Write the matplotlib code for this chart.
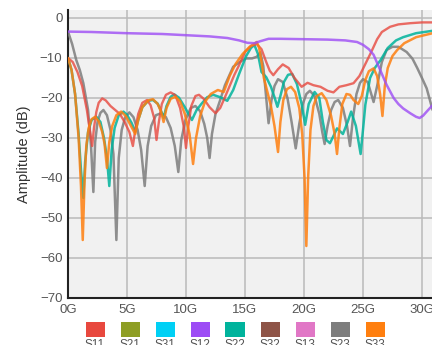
import matplotlib
matplotlib.use("Agg")
import matplotlib.pyplot as plt
from matplotlib.patches import Rectangle

plt.rcParams['font.family'] = ['Liberation Sans', 'DejaVu Sans']

# ---- data (frequency in GHz, amplitude in dB) ----
s11_f = [0, 0.4, 0.8, 1.2, 1.6, 1.9, 2.05, 2.2, 2.4, 2.6, 2.9, 3.2, 3.6, 4.0, 4.4, 4.8, 5.2, 5.5, 5.7,
         5.95, 6.3, 6.7, 7.0, 7.3, 7.5, 7.7, 7.95, 8.3, 8.7, 9.1, 9.5, 9.8, 10.0, 10.2, 10.45, 10.8, 11.1,
         11.5, 12.0, 12.5, 12.9, 13.3, 13.7, 14.1, 14.5, 15.0, 15.5, 16.0, 16.4, 16.8, 17.1, 17.4, 17.8,
         18.2, 18.7, 19.2, 19.8, 20.3, 20.8, 21.4, 22.0, 22.5, 23.0, 23.6, 24.2, 24.7, 25.2, 25.7, 26.2,
         26.6, 27.3, 28.0, 29.0, 30.0, 30.9]
s11_db = [-10, -11, -13.5, -17, -23, -29, -32, -27.5, -23.5, -21.2, -20.1, -20.6, -22, -23, -24, -26,
          -28.5, -32, -28, -24, -21.2, -20.5, -21.8, -25, -30.5, -26, -21.5, -19.2, -18.6, -19.3, -22.5,
          -27, -32.5, -27, -22, -19.5, -19.2, -20.2, -22.3, -23.8, -22.5, -19.8, -17, -14.2, -11.8, -8.5,
          -7, -6.5, -7.8, -11, -13.2, -14.3, -12.8, -11.6, -12.5, -15, -17.2, -16.2, -16.8, -17.2, -18.2,
          -18.6, -17.2, -16.8, -16.3, -14.5, -11.5, -8.5, -5.3, -3.5, -2.2, -1.6, -1.3, -1.1, -1.1]

s12_f = [0, 2, 5, 8, 10, 12, 13.5, 14.5, 15.2, 15.8, 16.3, 17, 18, 20, 22, 23.5, 24.5, 25.0, 25.5,
         25.9, 26.4, 27.0, 27.6, 28.0, 28.4, 29.0, 29.5, 29.8, 30.1, 30.4, 30.9]
s12_db = [-3.4, -3.5, -3.8, -4.0, -4.3, -4.6, -5.0, -5.6, -6.2, -6.3, -5.8, -5.2, -5.2, -5.3, -5.4, -5.6,
          -6.0, -6.7, -7.8, -9.2, -12.6, -16.7, -20, -21.5, -22.6, -23.8, -24.7, -25, -24.4, -23.4, -21.8]

s22_f = [0, 0.3, 0.6, 0.9, 1.1, 1.3, 1.45, 1.7, 2.0, 2.4, 2.75, 3.05, 3.3, 3.5, 3.7, 3.95, 4.3, 4.7,
         5.0, 5.4, 5.7, 5.95, 6.3, 6.8, 7.2, 7.6, 7.9, 8.1, 8.35, 8.7, 9.0, 9.4, 9.9, 10.5, 10.9, 11.3,
         11.8, 12.3, 12.9, 13.5, 14.0, 14.5, 15.1, 15.5, 15.8, 16.1, 16.4, 16.8, 17.2, 17.5, 17.75, 18.0,
         18.3, 18.65, 19.0, 19.4, 19.8, 20.1, 20.4, 20.9, 21.3, 21.6, 21.9, 22.2, 22.5, 22.8, 23.3,
         23.7, 24.0, 24.4, 24.8, 25.0, 25.2, 25.6, 26.0, 26.5, 27.1, 27.8, 28.4, 29.5, 30.9]
s22_db = [-10, -13, -19, -29, -38, -45, -36, -28.5, -25.5, -24.7, -26, -30, -35, -42, -33, -27.5, -24.3,
          -23.4, -24.2, -26.3, -28.4, -25.5, -22.3, -20.7, -20.5, -21.4, -23.3, -25, -22, -19.7, -19.1,
          -19.9, -22.3, -25.5, -23, -21.5, -19.8, -19.2, -19.8, -20.7, -18, -14, -9.5, -7.5, -6.75, -9,
          -13.5, -14.8, -17.2, -19.8, -22.2, -19.5, -16, -14.2, -14, -16.5, -21.5, -26.7, -21.5, -18.5,
          -20, -26, -30.5, -31.3, -29.5, -27.6, -29, -26, -23.4, -27, -34, -28, -21.7, -15, -12.5, -10.5,
          -7.5, -5.6, -4.8, -3.8, -3.2]

s23_f = [0, 0.35, 0.7, 1.0, 1.3, 1.7, 1.95, 2.15, 2.3, 2.5, 2.75, 3.0, 3.3, 3.6, 3.85, 4.1, 4.3, 4.55,
         4.85, 5.2, 5.55, 5.9, 6.2, 6.5, 6.75, 7.05, 7.45, 7.9, 8.3, 8.7, 9.05, 9.35, 9.6, 9.95, 10.4,
         10.8, 11.2, 11.55, 11.8, 12.0, 12.2, 12.5, 12.9, 13.3, 14.0, 14.6, 15.1, 15.6, 16.0, 16.3,
         16.55, 16.8, 17.0, 17.25, 17.5, 17.8, 18.2, 18.6, 18.95, 19.3, 19.6, 19.9, 20.2, 20.5, 20.9,
         21.3, 21.55, 21.75, 22.0, 22.3, 22.6, 22.9, 23.3, 23.65, 23.9, 24.15, 24.45, 24.75, 25.0, 25.4,
         25.9, 26.2, 26.6, 27.0, 27.5, 28.0, 28.7, 29.2, 29.6, 30.0, 30.4, 30.9]
s23_db = [-3.4, -6.5, -10.5, -13, -16.3, -23, -32, -43.5, -31, -26, -23.7, -23, -24.3, -28, -34, -55.5,
          -35, -28, -24.8, -23.6, -24.8, -28, -33, -42, -32, -27, -24.3, -23.8, -24.8, -27.5, -32, -38.5,
          -30.5, -25.5, -22.5, -22, -23.3, -26.5, -30, -35, -29, -24, -20.5, -16.8, -12.2, -10.9, -10.1,
          -10.1, -9.7, -8.6, -12, -20, -26.3, -20.5, -17, -15.3, -16, -20, -26, -32.6, -26.5, -21.5,
          -19, -18.2, -19.5, -24, -28.5, -31.5, -27, -23, -21, -20.5, -22.5, -27, -32, -25, -19,
          -16.2, -15.3, -16, -21, -17, -11, -8, -7.2, -7.2, -8.5, -10.2, -12.5, -15, -17.6, -23]

s33_f = [0, 0.3, 0.6, 0.9, 1.1, 1.25, 1.4, 1.55, 1.75, 2.0, 2.3, 2.6, 2.9, 3.1, 3.3, 3.5, 3.75, 4.1,
         4.5, 4.9, 5.3, 5.7, 5.95, 6.3, 6.8, 7.2, 7.6, 7.9, 8.1, 8.35, 8.7, 9.1, 9.5, 9.9, 10.3, 10.6,
         10.85, 11.2, 11.6, 12.1, 12.7, 13.2, 13.7, 14.2, 14.8, 15.4, 16.0, 16.2, 16.4, 16.6, 16.9,
         17.2, 17.5, 17.8, 18.0, 18.25, 18.55, 18.9, 19.25, 19.6, 19.85, 20.05, 20.2, 20.35, 20.55, 20.8,
         21.1, 21.5, 21.9, 22.3, 22.6, 22.8, 23.0, 23.25, 23.6, 23.9, 24.2, 24.6, 24.9, 25.2, 25.5,
         25.9, 26.2, 26.45, 26.65, 26.85, 27.1, 27.5, 27.9, 28.5, 29.5, 30.9]
s33_db = [-10, -13, -19, -30, -42, -55.5, -41, -32, -27.5, -25.3, -24.7, -25.8, -28.5, -31.5, -37.5,
          -31, -27, -24.3, -23.4, -24.5, -26.8, -29, -25.5, -22.3, -20.6, -20.3, -21.5, -23.5, -26,
          -22.5, -20.2, -19.7, -20.8, -24, -29, -36.5, -30, -24.5, -21, -19, -18, -18.5, -14.5, -11.5,
          -9, -7.2, -6, -7.5, -11, -15, -18.5, -22, -27, -33.5, -26, -20.5, -17.8, -17.2, -18.5, -22.5,
          -29, -40, -57, -40, -28, -22, -19.5, -18.8, -20.5, -24.5, -29, -34, -27.5, -21.5, -19, -19.2,
          -20.5, -21.5, -19.5, -15.5, -13.3, -12.6, -14.5, -19, -24.5, -17, -12.5, -9.5, -8, -6.3,
          -4.8, -3.8]

legend_names = ['S11', 'S21', 'S31', 'S12', 'S22', 'S32', 'S13', 'S23', 'S33']
legend_colors = ['#e8483e', '#8e9e25', '#00d0f5', '#9d4cf5', '#00b39c', '#8e5447', '#e177c6',
                 '#7d7d7d', '#ff7f0f']
x_ticks = [0, 5, 10, 15, 20, 25, 30]
x_tick_labels = ['0G', '5G', '10G', '15G', '20G', '25G', '30G']
y_ticks = [0, -10, -20, -30, -40, -50, -60, -70]

# ---- figure ----
W, H = 432, 345
fig = plt.figure(figsize=(W / 100, H / 100), dpi=100)
ax = fig.add_axes([68 / W, 47 / H, (W - 68) / W, 288 / H])
ax.set_facecolor('#f1f1f1')

col = dict(zip(legend_names, legend_colors))
kw = dict(solid_joinstyle='round', solid_capstyle='round')
ax.plot(s23_f, s23_db, color=col['S23'], lw=1.8, alpha=0.85, zorder=3, **kw)
ax.plot(s22_f, s22_db, color=col['S22'], lw=1.8, alpha=0.85, zorder=4, **kw)
ax.plot(s11_f, s11_db, color=col['S11'], lw=1.7, alpha=0.8, zorder=5, **kw)
ax.plot(s33_f, s33_db, color=col['S33'], lw=1.8, alpha=0.85, zorder=6, **kw)
ax.plot(s12_f, s12_db, color=col['S12'], lw=1.8, alpha=0.8, zorder=7, **kw)

ax.set_xlim(0, 30.85)
ax.set_ylim(-70, 2)
ax.set_xticks(x_ticks)
ax.set_xticklabels(x_tick_labels)
ax.set_yticks(y_ticks)
ax.grid(True, color='#b9b9b9', lw=1.1)
ax.set_axisbelow(True)
ax.tick_params(length=0, labelsize=9.5, labelcolor='#555555', pad=4)
for s in ['top', 'right']:
    ax.spines[s].set_visible(False)
for s in ['left', 'bottom']:
    ax.spines[s].set_color('#222222')
    ax.spines[s].set_linewidth(1.5)
ax.set_ylabel('Amplitude (dB)', fontsize=10.5, color='#333333', labelpad=6)

# legend row
for i, (name, c) in enumerate(zip(legend_names, legend_colors)):
    cx = 95 + 35 * i
    fig.patches.append(Rectangle(((cx - 9.5) / W, (H - 336.5) / H), 19 / W, 15 / H,
                                 transform=fig.transFigure, facecolor=c, edgecolor='none'))
    fig.text(cx / W, (H - 338.5) / H, name, ha='center', va='top', fontsize=8.5, color='#555555')

fig.savefig('out.png', dpi=100)
